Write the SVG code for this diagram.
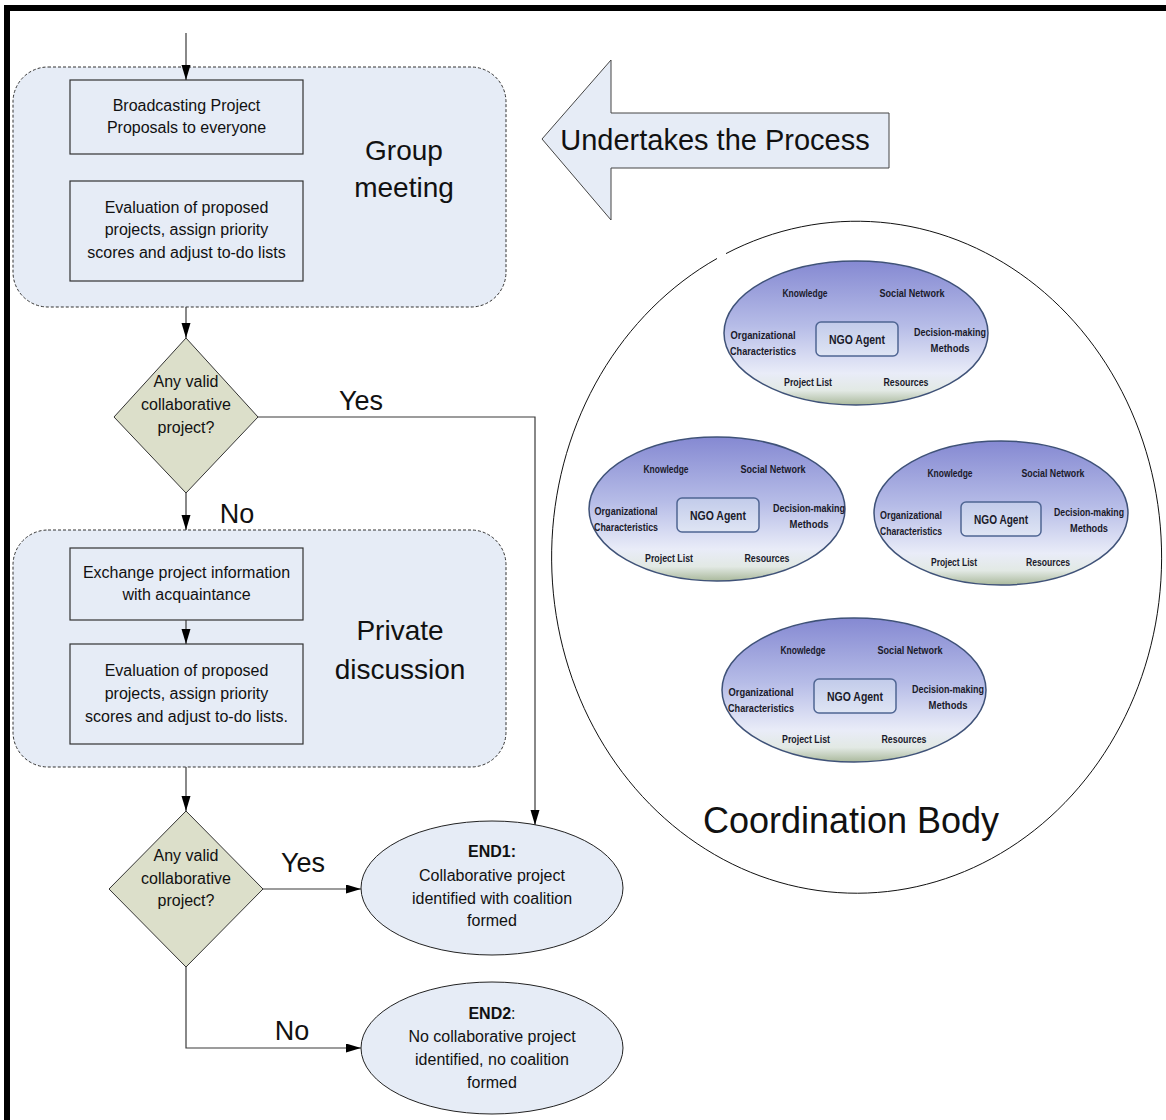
<svg xmlns="http://www.w3.org/2000/svg" width="1166" height="1120" viewBox="0 0 1166 1120">
<style>
  .t{font-family:"Liberation Sans",Arial,sans-serif;fill:#111;}
  .sm{font-size:16px;text-anchor:middle;}
  .big{font-size:28px;text-anchor:middle;}
  .lbl{font-size:27px;text-anchor:middle;}
  .grp{fill:#e6ecf6;stroke:#333;stroke-width:1;stroke-dasharray:3,2;}
  .box{fill:#e6ecf6;stroke:#333;stroke-width:1.2;}
  .dia{fill:#dcdfca;stroke:#333;stroke-width:1;}
  .end{fill:#e6ecf6;stroke:#222;stroke-width:1;}
  .con{fill:none;stroke:#3a3a3a;stroke-width:1.2;}
  .ag{font-family:"Liberation Sans",Arial,sans-serif;font-size:10px;font-weight:bold;fill:#1a1a2a;text-anchor:middle;}
  .ngo{font-size:12px;}
  .ell{fill:url(#agentGrad);stroke:#3f5278;stroke-width:1.5;}
  .nbox{fill:url(#ngoGrad);stroke:#4f6593;stroke-width:1.5;}
</style>
<defs>
  <marker id="ah" markerUnits="userSpaceOnUse" markerWidth="16" markerHeight="10" refX="15" refY="4.5" orient="auto">
    <path d="M0,0 L15,4.5 L0,9 z" fill="#000"/>
  </marker>
  <linearGradient id="agentGrad" x1="0" y1="0" x2="0" y2="1">
    <stop offset="0" stop-color="#8589d2"/>
    <stop offset="0.45" stop-color="#b6bce7"/>
    <stop offset="0.78" stop-color="#e9ecf8"/>
    <stop offset="0.9" stop-color="#e2e9e4"/>
    <stop offset="1" stop-color="#aab99c"/>
  </linearGradient>
  <linearGradient id="ngoGrad" x1="0" y1="0" x2="0" y2="1">
    <stop offset="0" stop-color="#c2cbea"/>
    <stop offset="1" stop-color="#dfe5f4"/>
  </linearGradient>
</defs>

<!-- frame -->
<rect x="4" y="5" width="1162" height="6" fill="#000"/>
<rect x="4" y="5" width="6" height="1115" fill="#000"/>

<!-- Group meeting -->
<g id="group-meeting">
  <rect class="grp" x="13" y="67" width="493" height="240" rx="35" ry="35"/>
  <text class="t big" x="404" y="160">Group</text>
  <text class="t big" x="404" y="197">meeting</text>
</g>
<g id="broadcast">
  <rect class="box" x="70" y="80" width="233" height="74"/>
  <text class="t sm" x="186.5" y="111">Broadcasting Project</text>
  <text class="t sm" x="186.5" y="133">Proposals to everyone</text>
</g>
<g id="evaluate1">
  <rect class="box" x="70" y="181" width="233" height="100"/>
  <text class="t sm" x="186.5" y="213">Evaluation of proposed</text>
  <text class="t sm" x="186.5" y="235">projects, assign priority</text>
  <text class="t sm" x="186.5" y="258">scores and adjust to-do lists</text>
</g>

<!-- Decision 1 -->
<g id="decision1">
  <polygon class="dia" points="186,338 258,417 186,493 114,417"/>
  <text class="t sm" x="186" y="387">Any valid</text>
  <text class="t sm" x="186" y="410">collaborative</text>
  <text class="t sm" x="186" y="433">project?</text>
</g>

<!-- Private discussion -->
<g id="private-discussion">
  <rect class="grp" x="13" y="530" width="493" height="237" rx="35" ry="35"/>
  <text class="t big" x="400" y="640">Private</text>
  <text class="t big" x="400" y="679">discussion</text>
</g>
<g id="exchange">
  <rect class="box" x="70" y="548" width="233" height="72"/>
  <text class="t sm" x="186.5" y="578">Exchange project information</text>
  <text class="t sm" x="186.5" y="600">with acquaintance</text>
</g>
<g id="evaluate2">
  <rect class="box" x="70" y="644" width="233" height="100"/>
  <text class="t sm" x="186.5" y="676">Evaluation of proposed</text>
  <text class="t sm" x="186.5" y="699">projects, assign priority</text>
  <text class="t sm" x="186.5" y="722">scores and adjust to-do lists.</text>
</g>

<!-- Decision 2 -->
<g id="decision2">
  <polygon class="dia" points="186,811 263,889 186,967 109,889"/>
  <text class="t sm" x="186" y="861">Any valid</text>
  <text class="t sm" x="186" y="884">collaborative</text>
  <text class="t sm" x="186" y="906">project?</text>
</g>

<!-- END nodes -->
<g id="end1">
  <ellipse class="end" cx="492" cy="888" rx="131" ry="67"/>
  <text class="t sm" x="492" y="857" font-weight="bold">END1:</text>
  <text class="t sm" x="492" y="881">Collaborative project</text>
  <text class="t sm" x="492" y="904">identified with coalition</text>
  <text class="t sm" x="492" y="926">formed</text>
</g>
<g id="end2">
  <ellipse class="end" cx="492" cy="1048" rx="131" ry="66"/>
  <text class="t sm" x="492" y="1019"><tspan font-weight="bold">END2</tspan>:</text>
  <text class="t sm" x="492" y="1042">No collaborative project</text>
  <text class="t sm" x="492" y="1065">identified, no coalition</text>
  <text class="t sm" x="492" y="1088">formed</text>
</g>

<!-- Big arrow -->
<g id="undertakes">
  <polygon points="542,139 611,60 611,113 889,113 889,168 611,168 611,220" fill="#e6ecf6" stroke="#444" stroke-width="1"/>
  <text class="t" x="715" y="150" font-size="29" text-anchor="middle">Undertakes the Process</text>
</g>

<!-- Coordination body -->
<g id="coordination-body">
  <path d="M726,253.6 A305,336 0 1,1 717,258.5" fill="none" stroke="#111" stroke-width="1"/>
  <text class="t" x="851" y="833" font-size="36" text-anchor="middle">Coordination Body</text>
</g>

<g id="agent1" transform="translate(856,333)">
  <ellipse class="ell" cx="0" cy="0" rx="132" ry="72"/>
  <text class="ag" x="-51" y="-36" textLength="45" lengthAdjust="spacingAndGlyphs">Knowledge</text>
  <text class="ag" x="56" y="-36" textLength="65" lengthAdjust="spacingAndGlyphs">Social Network</text>
  <text class="ag" x="-93" y="6" textLength="65" lengthAdjust="spacingAndGlyphs">Organizational</text>
  <text class="ag" x="-93" y="22" textLength="66" lengthAdjust="spacingAndGlyphs">Characteristics</text>
  <rect class="nbox" x="-40" y="-11" width="82" height="34" rx="5"/>
  <text class="ag ngo" x="1" y="11" textLength="56" lengthAdjust="spacingAndGlyphs">NGO Agent</text>
  <text class="ag" x="94" y="3" textLength="72" lengthAdjust="spacingAndGlyphs">Decision-making</text>
  <text class="ag" x="94" y="19" textLength="39" lengthAdjust="spacingAndGlyphs">Methods</text>
  <text class="ag" x="-48" y="53" textLength="48" lengthAdjust="spacingAndGlyphs">Project List</text>
  <text class="ag" x="50" y="53" textLength="45" lengthAdjust="spacingAndGlyphs">Resources</text>
</g>
<g id="agent2" transform="translate(717,509)">
  <ellipse class="ell" cx="0" cy="0" rx="128" ry="72"/>
  <text class="ag" x="-51" y="-36" textLength="45" lengthAdjust="spacingAndGlyphs">Knowledge</text>
  <text class="ag" x="56" y="-36" textLength="65" lengthAdjust="spacingAndGlyphs">Social Network</text>
  <text class="ag" x="-91" y="6" textLength="63" lengthAdjust="spacingAndGlyphs">Organizational</text>
  <text class="ag" x="-91" y="22" textLength="64" lengthAdjust="spacingAndGlyphs">Characteristics</text>
  <rect class="nbox" x="-40" y="-11" width="82" height="34" rx="5"/>
  <text class="ag ngo" x="1" y="11" textLength="56" lengthAdjust="spacingAndGlyphs">NGO Agent</text>
  <text class="ag" x="92" y="3" textLength="72" lengthAdjust="spacingAndGlyphs">Decision-making</text>
  <text class="ag" x="92" y="19" textLength="39" lengthAdjust="spacingAndGlyphs">Methods</text>
  <text class="ag" x="-48" y="53" textLength="48" lengthAdjust="spacingAndGlyphs">Project List</text>
  <text class="ag" x="50" y="53" textLength="45" lengthAdjust="spacingAndGlyphs">Resources</text>
</g>
<g id="agent3" transform="translate(1001,513)">
  <ellipse class="ell" cx="0" cy="0" rx="127" ry="72"/>
  <text class="ag" x="-51" y="-36" textLength="45" lengthAdjust="spacingAndGlyphs">Knowledge</text>
  <text class="ag" x="52" y="-36" textLength="63" lengthAdjust="spacingAndGlyphs">Social Network</text>
  <text class="ag" x="-90" y="6" textLength="62" lengthAdjust="spacingAndGlyphs">Organizational</text>
  <text class="ag" x="-90" y="22" textLength="62" lengthAdjust="spacingAndGlyphs">Characteristics</text>
  <rect class="nbox" x="-40" y="-11" width="80" height="34" rx="5"/>
  <text class="ag ngo" x="0" y="11" textLength="54" lengthAdjust="spacingAndGlyphs">NGO Agent</text>
  <text class="ag" x="88" y="3" textLength="70" lengthAdjust="spacingAndGlyphs">Decision-making</text>
  <text class="ag" x="88" y="19" textLength="38" lengthAdjust="spacingAndGlyphs">Methods</text>
  <text class="ag" x="-47" y="53" textLength="46" lengthAdjust="spacingAndGlyphs">Project List</text>
  <text class="ag" x="47" y="53" textLength="44" lengthAdjust="spacingAndGlyphs">Resources</text>
</g>
<g id="agent4" transform="translate(854,690)">
  <ellipse class="ell" cx="0" cy="0" rx="132" ry="72"/>
  <text class="ag" x="-51" y="-36" textLength="45" lengthAdjust="spacingAndGlyphs">Knowledge</text>
  <text class="ag" x="56" y="-36" textLength="65" lengthAdjust="spacingAndGlyphs">Social Network</text>
  <text class="ag" x="-93" y="6" textLength="65" lengthAdjust="spacingAndGlyphs">Organizational</text>
  <text class="ag" x="-93" y="22" textLength="66" lengthAdjust="spacingAndGlyphs">Characteristics</text>
  <rect class="nbox" x="-40" y="-11" width="82" height="34" rx="5"/>
  <text class="ag ngo" x="1" y="11" textLength="56" lengthAdjust="spacingAndGlyphs">NGO Agent</text>
  <text class="ag" x="94" y="3" textLength="72" lengthAdjust="spacingAndGlyphs">Decision-making</text>
  <text class="ag" x="94" y="19" textLength="39" lengthAdjust="spacingAndGlyphs">Methods</text>
  <text class="ag" x="-48" y="53" textLength="48" lengthAdjust="spacingAndGlyphs">Project List</text>
  <text class="ag" x="50" y="53" textLength="45" lengthAdjust="spacingAndGlyphs">Resources</text>
</g>

<!-- connectors -->
<g id="connectors">
  <line class="con" x1="186" y1="33" x2="186" y2="80" marker-end="url(#ah)"/>
  <line class="con" x1="186" y1="307" x2="186" y2="338" marker-end="url(#ah)"/>
  <line class="con" x1="186" y1="493" x2="186" y2="530" marker-end="url(#ah)"/>
  <line class="con" x1="186" y1="620" x2="186" y2="644" marker-end="url(#ah)"/>
  <line class="con" x1="186" y1="767" x2="186" y2="811" marker-end="url(#ah)"/>
  <polyline class="con" points="258,417 535,417 535,825" marker-end="url(#ah)"/>
  <line class="con" x1="263" y1="889" x2="361" y2="889" marker-end="url(#ah)"/>
  <polyline class="con" points="186,967 186,1048 361,1048" marker-end="url(#ah)"/>
  <text class="t lbl" x="361" y="410">Yes</text>
  <text class="t lbl" x="237" y="523">No</text>
  <text class="t lbl" x="303" y="872">Yes</text>
  <text class="t lbl" x="292" y="1040">No</text>
</g>
</svg>
